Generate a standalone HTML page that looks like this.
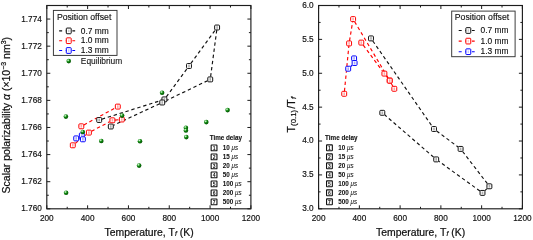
<!DOCTYPE html>
<html><head><meta charset="utf-8"><style>html,body{margin:0;padding:0;background:#fff;}body{width:533px;height:240px;overflow:hidden;font-family:"Liberation Sans",sans-serif;}svg{display:block;will-change:transform;}</style></head><body>
<svg width="533" height="240" viewBox="0 0 533 240">
<defs><radialGradient id="gball" cx="0.36" cy="0.32" r="0.72"><stop offset="0" stop-color="#f4fff4"/><stop offset="0.22" stop-color="#7ccc7c"/><stop offset="0.45" stop-color="#0e860e"/><stop offset="1" stop-color="#004c00"/></radialGradient></defs>
<style>text{stroke:#111;stroke-width:0.22px;}</style>
<rect width="533" height="240" fill="#fff"/>
<line x1="101.80" y1="119.18" x2="161.80" y2="100.22" stroke="#111" stroke-width="1.15" stroke-dasharray="3.4 2.8"/>
<line x1="166.31" y1="96.80" x2="187.09" y2="68.60" stroke="#111" stroke-width="1.15" stroke-dasharray="3.4 2.8"/>
<line x1="190.90" y1="63.40" x2="215.20" y2="30.10" stroke="#111" stroke-width="1.15" stroke-dasharray="3.4 2.8"/>
<line x1="216.76" y1="30.10" x2="210.59" y2="76.80" stroke="#111" stroke-width="1.15" stroke-dasharray="3.4 2.8"/>
<line x1="207.65" y1="80.65" x2="164.85" y2="101.25" stroke="#111" stroke-width="1.15" stroke-dasharray="3.4 2.8"/>
<line x1="159.65" y1="103.71" x2="113.40" y2="125.29" stroke="#111" stroke-width="1.15" stroke-dasharray="3.4 2.8"/>
<line x1="83.90" y1="124.90" x2="115.20" y2="108.00" stroke="#f00" stroke-width="1.15" stroke-dasharray="3.4 2.8"/>
<line x1="75.40" y1="143.25" x2="86.30" y2="134.65" stroke="#f00" stroke-width="1.15" stroke-dasharray="3.4 2.8"/>
<line x1="91.50" y1="131.24" x2="109.80" y2="121.66" stroke="#f00" stroke-width="1.15" stroke-dasharray="3.4 2.8"/>
<line x1="115.00" y1="120.08" x2="119.20" y2="119.72" stroke="#f00" stroke-width="1.15" stroke-dasharray="3.4 2.8"/>
<line x1="78.80" y1="138.75" x2="80.30" y2="138.95" stroke="#00f" stroke-width="1.15" stroke-dasharray="3.4 2.8"/>
<rect x="96.75" y="117.55" width="4.90" height="4.90" rx="0.9" fill="#fff" stroke="#111" stroke-width="1.0"/>
<rect x="98.40" y="118.70" width="1.6" height="2.6" fill="#111" opacity="0.35"/>
<rect x="161.95" y="96.95" width="4.90" height="4.90" rx="0.9" fill="#fff" stroke="#111" stroke-width="1.0"/>
<rect x="163.60" y="98.10" width="1.6" height="2.6" fill="#111" opacity="0.35"/>
<rect x="186.55" y="63.55" width="4.90" height="4.90" rx="0.9" fill="#fff" stroke="#111" stroke-width="1.0"/>
<rect x="188.20" y="64.70" width="1.6" height="2.6" fill="#111" opacity="0.35"/>
<rect x="214.65" y="25.05" width="4.90" height="4.90" rx="0.9" fill="#fff" stroke="#111" stroke-width="1.0"/>
<rect x="216.30" y="26.20" width="1.6" height="2.6" fill="#111" opacity="0.35"/>
<rect x="207.80" y="76.95" width="4.90" height="4.90" rx="0.9" fill="#fff" stroke="#111" stroke-width="1.0"/>
<rect x="209.45" y="78.10" width="1.6" height="2.6" fill="#111" opacity="0.35"/>
<rect x="159.80" y="100.05" width="4.90" height="4.90" rx="0.9" fill="#fff" stroke="#111" stroke-width="1.0"/>
<rect x="161.45" y="101.20" width="1.6" height="2.6" fill="#111" opacity="0.35"/>
<rect x="108.35" y="124.05" width="4.90" height="4.90" rx="0.9" fill="#fff" stroke="#111" stroke-width="1.0"/>
<rect x="110.00" y="125.20" width="1.6" height="2.6" fill="#111" opacity="0.35"/>
<rect x="78.85" y="123.85" width="4.90" height="4.90" rx="0.9" fill="#fff" stroke="#f00" stroke-width="1.0"/>
<rect x="80.50" y="125.00" width="1.6" height="2.6" fill="#f00" opacity="0.35"/>
<rect x="115.35" y="104.15" width="4.90" height="4.90" rx="0.9" fill="#fff" stroke="#f00" stroke-width="1.0"/>
<rect x="117.00" y="105.30" width="1.6" height="2.6" fill="#f00" opacity="0.35"/>
<rect x="70.35" y="142.85" width="4.90" height="4.90" rx="0.9" fill="#fff" stroke="#f00" stroke-width="1.0"/>
<rect x="72.00" y="144.00" width="1.6" height="2.6" fill="#f00" opacity="0.35"/>
<rect x="86.45" y="130.15" width="4.90" height="4.90" rx="0.9" fill="#fff" stroke="#f00" stroke-width="1.0"/>
<rect x="88.10" y="131.30" width="1.6" height="2.6" fill="#f00" opacity="0.35"/>
<rect x="109.95" y="117.85" width="4.90" height="4.90" rx="0.9" fill="#fff" stroke="#f00" stroke-width="1.0"/>
<rect x="111.60" y="119.00" width="1.6" height="2.6" fill="#f00" opacity="0.35"/>
<rect x="119.35" y="117.05" width="4.90" height="4.90" rx="0.9" fill="#fff" stroke="#f00" stroke-width="1.0"/>
<rect x="121.00" y="118.20" width="1.6" height="2.6" fill="#f00" opacity="0.35"/>
<rect x="73.75" y="135.95" width="4.90" height="4.90" rx="0.9" fill="#fff" stroke="#00f" stroke-width="1.0"/>
<rect x="75.40" y="137.10" width="1.6" height="2.6" fill="#00f" opacity="0.35"/>
<rect x="79.35" y="132.95" width="4.90" height="4.90" rx="0.9" fill="#fff" stroke="#00f" stroke-width="1.0"/>
<rect x="81.00" y="134.10" width="1.6" height="2.6" fill="#00f" opacity="0.35"/>
<rect x="80.45" y="136.85" width="4.90" height="4.90" rx="0.9" fill="#fff" stroke="#00f" stroke-width="1.0"/>
<rect x="82.10" y="138.00" width="1.6" height="2.6" fill="#00f" opacity="0.35"/>
<circle cx="66.10" cy="192.80" r="2.3" fill="url(#gball)"/>
<circle cx="65.90" cy="116.60" r="2.3" fill="url(#gball)"/>
<circle cx="82.80" cy="132.00" r="2.3" fill="url(#gball)"/>
<circle cx="101.30" cy="141.00" r="2.3" fill="url(#gball)"/>
<circle cx="122.10" cy="115.60" r="2.3" fill="url(#gball)"/>
<circle cx="140.00" cy="141.20" r="2.3" fill="url(#gball)"/>
<circle cx="139.10" cy="165.60" r="2.3" fill="url(#gball)"/>
<circle cx="162.10" cy="92.80" r="2.3" fill="url(#gball)"/>
<circle cx="185.90" cy="127.80" r="2.3" fill="url(#gball)"/>
<circle cx="185.90" cy="130.50" r="2.3" fill="url(#gball)"/>
<circle cx="186.30" cy="137.10" r="2.3" fill="url(#gball)"/>
<circle cx="206.30" cy="122.10" r="2.3" fill="url(#gball)"/>
<circle cx="227.60" cy="110.10" r="2.3" fill="url(#gball)"/>
<rect x="46.8" y="5.5" width="204.10000000000002" height="203.3" fill="none" stroke="#1c1c1c" stroke-width="1.15"/>
<line x1="46.80" y1="208.8" x2="46.80" y2="205.3" stroke="#1c1c1c" stroke-width="1"/>
<line x1="46.80" y1="5.5" x2="46.80" y2="9.0" stroke="#1c1c1c" stroke-width="1"/>
<text transform="translate(46.80,220.6) scale(0.84,1)" font-size="9.8" text-anchor="middle" font-family="Liberation Sans, sans-serif" fill="#111" style="stroke-width:0.2px">200</text>
<line x1="67.21" y1="208.8" x2="67.21" y2="206.8" stroke="#1c1c1c" stroke-width="1"/>
<line x1="67.21" y1="5.5" x2="67.21" y2="7.5" stroke="#1c1c1c" stroke-width="1"/>
<line x1="87.62" y1="208.8" x2="87.62" y2="205.3" stroke="#1c1c1c" stroke-width="1"/>
<line x1="87.62" y1="5.5" x2="87.62" y2="9.0" stroke="#1c1c1c" stroke-width="1"/>
<text transform="translate(87.62,220.6) scale(0.84,1)" font-size="9.8" text-anchor="middle" font-family="Liberation Sans, sans-serif" fill="#111" style="stroke-width:0.2px">400</text>
<line x1="108.03" y1="208.8" x2="108.03" y2="206.8" stroke="#1c1c1c" stroke-width="1"/>
<line x1="108.03" y1="5.5" x2="108.03" y2="7.5" stroke="#1c1c1c" stroke-width="1"/>
<line x1="128.44" y1="208.8" x2="128.44" y2="205.3" stroke="#1c1c1c" stroke-width="1"/>
<line x1="128.44" y1="5.5" x2="128.44" y2="9.0" stroke="#1c1c1c" stroke-width="1"/>
<text transform="translate(128.44,220.6) scale(0.84,1)" font-size="9.8" text-anchor="middle" font-family="Liberation Sans, sans-serif" fill="#111" style="stroke-width:0.2px">600</text>
<line x1="148.85" y1="208.8" x2="148.85" y2="206.8" stroke="#1c1c1c" stroke-width="1"/>
<line x1="148.85" y1="5.5" x2="148.85" y2="7.5" stroke="#1c1c1c" stroke-width="1"/>
<line x1="169.26" y1="208.8" x2="169.26" y2="205.3" stroke="#1c1c1c" stroke-width="1"/>
<line x1="169.26" y1="5.5" x2="169.26" y2="9.0" stroke="#1c1c1c" stroke-width="1"/>
<text transform="translate(169.26,220.6) scale(0.84,1)" font-size="9.8" text-anchor="middle" font-family="Liberation Sans, sans-serif" fill="#111" style="stroke-width:0.2px">800</text>
<line x1="189.67" y1="208.8" x2="189.67" y2="206.8" stroke="#1c1c1c" stroke-width="1"/>
<line x1="189.67" y1="5.5" x2="189.67" y2="7.5" stroke="#1c1c1c" stroke-width="1"/>
<line x1="210.08" y1="208.8" x2="210.08" y2="205.3" stroke="#1c1c1c" stroke-width="1"/>
<line x1="210.08" y1="5.5" x2="210.08" y2="9.0" stroke="#1c1c1c" stroke-width="1"/>
<text transform="translate(210.08,220.6) scale(0.84,1)" font-size="9.8" text-anchor="middle" font-family="Liberation Sans, sans-serif" fill="#111" style="stroke-width:0.2px">1000</text>
<line x1="230.49" y1="208.8" x2="230.49" y2="206.8" stroke="#1c1c1c" stroke-width="1"/>
<line x1="230.49" y1="5.5" x2="230.49" y2="7.5" stroke="#1c1c1c" stroke-width="1"/>
<line x1="250.90" y1="208.8" x2="250.90" y2="205.3" stroke="#1c1c1c" stroke-width="1"/>
<line x1="250.90" y1="5.5" x2="250.90" y2="9.0" stroke="#1c1c1c" stroke-width="1"/>
<text transform="translate(250.90,220.6) scale(0.84,1)" font-size="9.8" text-anchor="middle" font-family="Liberation Sans, sans-serif" fill="#111" style="stroke-width:0.2px">1200</text>
<line x1="46.8" y1="208.80" x2="50.3" y2="208.80" stroke="#1c1c1c" stroke-width="1"/>
<line x1="250.9" y1="208.80" x2="247.4" y2="208.80" stroke="#1c1c1c" stroke-width="1"/>
<text transform="translate(41.80,211.25) scale(0.84,1)" font-size="9.8" text-anchor="end" font-family="Liberation Sans, sans-serif" fill="#111" style="stroke-width:0.2px">1.760</text>
<line x1="46.8" y1="195.25" x2="48.8" y2="195.25" stroke="#1c1c1c" stroke-width="1"/>
<line x1="250.9" y1="195.25" x2="248.9" y2="195.25" stroke="#1c1c1c" stroke-width="1"/>
<line x1="46.8" y1="181.69" x2="50.3" y2="181.69" stroke="#1c1c1c" stroke-width="1"/>
<line x1="250.9" y1="181.69" x2="247.4" y2="181.69" stroke="#1c1c1c" stroke-width="1"/>
<text transform="translate(41.80,184.14) scale(0.84,1)" font-size="9.8" text-anchor="end" font-family="Liberation Sans, sans-serif" fill="#111" style="stroke-width:0.2px">1.762</text>
<line x1="46.8" y1="168.14" x2="48.8" y2="168.14" stroke="#1c1c1c" stroke-width="1"/>
<line x1="250.9" y1="168.14" x2="248.9" y2="168.14" stroke="#1c1c1c" stroke-width="1"/>
<line x1="46.8" y1="154.59" x2="50.3" y2="154.59" stroke="#1c1c1c" stroke-width="1"/>
<line x1="250.9" y1="154.59" x2="247.4" y2="154.59" stroke="#1c1c1c" stroke-width="1"/>
<text transform="translate(41.80,157.04) scale(0.84,1)" font-size="9.8" text-anchor="end" font-family="Liberation Sans, sans-serif" fill="#111" style="stroke-width:0.2px">1.764</text>
<line x1="46.8" y1="141.03" x2="48.8" y2="141.03" stroke="#1c1c1c" stroke-width="1"/>
<line x1="250.9" y1="141.03" x2="248.9" y2="141.03" stroke="#1c1c1c" stroke-width="1"/>
<line x1="46.8" y1="127.48" x2="50.3" y2="127.48" stroke="#1c1c1c" stroke-width="1"/>
<line x1="250.9" y1="127.48" x2="247.4" y2="127.48" stroke="#1c1c1c" stroke-width="1"/>
<text transform="translate(41.80,129.93) scale(0.84,1)" font-size="9.8" text-anchor="end" font-family="Liberation Sans, sans-serif" fill="#111" style="stroke-width:0.2px">1.766</text>
<line x1="46.8" y1="113.93" x2="48.8" y2="113.93" stroke="#1c1c1c" stroke-width="1"/>
<line x1="250.9" y1="113.93" x2="248.9" y2="113.93" stroke="#1c1c1c" stroke-width="1"/>
<line x1="46.8" y1="100.37" x2="50.3" y2="100.37" stroke="#1c1c1c" stroke-width="1"/>
<line x1="250.9" y1="100.37" x2="247.4" y2="100.37" stroke="#1c1c1c" stroke-width="1"/>
<text transform="translate(41.80,102.82) scale(0.84,1)" font-size="9.8" text-anchor="end" font-family="Liberation Sans, sans-serif" fill="#111" style="stroke-width:0.2px">1.768</text>
<line x1="46.8" y1="86.82" x2="48.8" y2="86.82" stroke="#1c1c1c" stroke-width="1"/>
<line x1="250.9" y1="86.82" x2="248.9" y2="86.82" stroke="#1c1c1c" stroke-width="1"/>
<line x1="46.8" y1="73.27" x2="50.3" y2="73.27" stroke="#1c1c1c" stroke-width="1"/>
<line x1="250.9" y1="73.27" x2="247.4" y2="73.27" stroke="#1c1c1c" stroke-width="1"/>
<text transform="translate(41.80,75.72) scale(0.84,1)" font-size="9.8" text-anchor="end" font-family="Liberation Sans, sans-serif" fill="#111" style="stroke-width:0.2px">1.770</text>
<line x1="46.8" y1="59.71" x2="48.8" y2="59.71" stroke="#1c1c1c" stroke-width="1"/>
<line x1="250.9" y1="59.71" x2="248.9" y2="59.71" stroke="#1c1c1c" stroke-width="1"/>
<line x1="46.8" y1="46.16" x2="50.3" y2="46.16" stroke="#1c1c1c" stroke-width="1"/>
<line x1="250.9" y1="46.16" x2="247.4" y2="46.16" stroke="#1c1c1c" stroke-width="1"/>
<text transform="translate(41.80,48.61) scale(0.84,1)" font-size="9.8" text-anchor="end" font-family="Liberation Sans, sans-serif" fill="#111" style="stroke-width:0.2px">1.772</text>
<line x1="46.8" y1="32.61" x2="48.8" y2="32.61" stroke="#1c1c1c" stroke-width="1"/>
<line x1="250.9" y1="32.61" x2="248.9" y2="32.61" stroke="#1c1c1c" stroke-width="1"/>
<line x1="46.8" y1="19.05" x2="50.3" y2="19.05" stroke="#1c1c1c" stroke-width="1"/>
<line x1="250.9" y1="19.05" x2="247.4" y2="19.05" stroke="#1c1c1c" stroke-width="1"/>
<text transform="translate(41.80,21.50) scale(0.84,1)" font-size="9.8" text-anchor="end" font-family="Liberation Sans, sans-serif" fill="#111" style="stroke-width:0.2px">1.774</text>
<line x1="46.8" y1="5.50" x2="48.8" y2="5.50" stroke="#1c1c1c" stroke-width="1"/>
<line x1="250.9" y1="5.50" x2="248.9" y2="5.50" stroke="#1c1c1c" stroke-width="1"/>
<line x1="372.81" y1="41.00" x2="432.19" y2="126.40" stroke="#111" stroke-width="1.15" stroke-dasharray="3.4 2.8"/>
<line x1="436.60" y1="130.95" x2="458.00" y2="146.95" stroke="#111" stroke-width="1.15" stroke-dasharray="3.4 2.8"/>
<line x1="462.60" y1="151.50" x2="487.40" y2="183.70" stroke="#111" stroke-width="1.15" stroke-dasharray="3.4 2.8"/>
<line x1="486.96" y1="188.64" x2="484.94" y2="190.56" stroke="#111" stroke-width="1.15" stroke-dasharray="3.4 2.8"/>
<line x1="479.90" y1="191.02" x2="438.80" y2="161.28" stroke="#111" stroke-width="1.15" stroke-dasharray="3.4 2.8"/>
<line x1="433.64" y1="157.19" x2="384.86" y2="115.01" stroke="#111" stroke-width="1.15" stroke-dasharray="3.4 2.8"/>
<line x1="344.45" y1="91.20" x2="348.85" y2="46.00" stroke="#f00" stroke-width="1.15" stroke-dasharray="3.4 2.8"/>
<line x1="349.53" y1="40.80" x2="352.67" y2="21.70" stroke="#f00" stroke-width="1.15" stroke-dasharray="3.4 2.8"/>
<line x1="354.65" y1="21.70" x2="388.15" y2="78.00" stroke="#f00" stroke-width="1.15" stroke-dasharray="3.4 2.8"/>
<line x1="363.24" y1="45.20" x2="382.46" y2="71.00" stroke="#f00" stroke-width="1.15" stroke-dasharray="3.4 2.8"/>
<line x1="386.37" y1="76.20" x2="387.73" y2="78.00" stroke="#f00" stroke-width="1.15" stroke-dasharray="3.4 2.8"/>
<line x1="391.16" y1="83.20" x2="392.84" y2="86.20" stroke="#f00" stroke-width="1.15" stroke-dasharray="3.4 2.8"/>
<line x1="352.08" y1="65.25" x2="350.72" y2="66.45" stroke="#00f" stroke-width="1.15" stroke-dasharray="3.4 2.8"/>
<rect x="368.55" y="35.95" width="4.90" height="4.90" rx="0.9" fill="#fff" stroke="#111" stroke-width="1.0"/>
<rect x="370.20" y="37.10" width="1.6" height="2.6" fill="#111" opacity="0.35"/>
<rect x="431.55" y="126.55" width="4.90" height="4.90" rx="0.9" fill="#fff" stroke="#111" stroke-width="1.0"/>
<rect x="433.20" y="127.70" width="1.6" height="2.6" fill="#111" opacity="0.35"/>
<rect x="458.15" y="146.45" width="4.90" height="4.90" rx="0.9" fill="#fff" stroke="#111" stroke-width="1.0"/>
<rect x="459.80" y="147.60" width="1.6" height="2.6" fill="#111" opacity="0.35"/>
<rect x="486.95" y="183.85" width="4.90" height="4.90" rx="0.9" fill="#fff" stroke="#111" stroke-width="1.0"/>
<rect x="488.60" y="185.00" width="1.6" height="2.6" fill="#111" opacity="0.35"/>
<rect x="480.05" y="190.45" width="4.90" height="4.90" rx="0.9" fill="#fff" stroke="#111" stroke-width="1.0"/>
<rect x="481.70" y="191.60" width="1.6" height="2.6" fill="#111" opacity="0.35"/>
<rect x="433.75" y="156.95" width="4.90" height="4.90" rx="0.9" fill="#fff" stroke="#111" stroke-width="1.0"/>
<rect x="435.40" y="158.10" width="1.6" height="2.6" fill="#111" opacity="0.35"/>
<rect x="379.85" y="110.35" width="4.90" height="4.90" rx="0.9" fill="#fff" stroke="#111" stroke-width="1.0"/>
<rect x="381.50" y="111.50" width="1.6" height="2.6" fill="#111" opacity="0.35"/>
<rect x="341.75" y="91.35" width="4.90" height="4.90" rx="0.9" fill="#fff" stroke="#f00" stroke-width="1.0"/>
<rect x="343.40" y="92.50" width="1.6" height="2.6" fill="#f00" opacity="0.35"/>
<rect x="346.65" y="40.95" width="4.90" height="4.90" rx="0.9" fill="#fff" stroke="#f00" stroke-width="1.0"/>
<rect x="348.30" y="42.10" width="1.6" height="2.6" fill="#f00" opacity="0.35"/>
<rect x="350.65" y="16.65" width="4.90" height="4.90" rx="0.9" fill="#fff" stroke="#f00" stroke-width="1.0"/>
<rect x="352.30" y="17.80" width="1.6" height="2.6" fill="#f00" opacity="0.35"/>
<rect x="387.25" y="78.15" width="4.90" height="4.90" rx="0.9" fill="#fff" stroke="#f00" stroke-width="1.0"/>
<rect x="388.90" y="79.30" width="1.6" height="2.6" fill="#f00" opacity="0.35"/>
<rect x="358.85" y="40.15" width="4.90" height="4.90" rx="0.9" fill="#fff" stroke="#f00" stroke-width="1.0"/>
<rect x="360.50" y="41.30" width="1.6" height="2.6" fill="#f00" opacity="0.35"/>
<rect x="381.95" y="71.15" width="4.90" height="4.90" rx="0.9" fill="#fff" stroke="#f00" stroke-width="1.0"/>
<rect x="383.60" y="72.30" width="1.6" height="2.6" fill="#f00" opacity="0.35"/>
<rect x="387.25" y="78.15" width="4.90" height="4.90" rx="0.9" fill="#fff" stroke="#f00" stroke-width="1.0"/>
<rect x="388.90" y="79.30" width="1.6" height="2.6" fill="#f00" opacity="0.35"/>
<rect x="391.85" y="86.35" width="4.90" height="4.90" rx="0.9" fill="#fff" stroke="#f00" stroke-width="1.0"/>
<rect x="393.50" y="87.50" width="1.6" height="2.6" fill="#f00" opacity="0.35"/>
<rect x="351.65" y="55.95" width="4.90" height="4.90" rx="0.9" fill="#fff" stroke="#00f" stroke-width="1.0"/>
<rect x="353.30" y="57.10" width="1.6" height="2.6" fill="#00f" opacity="0.35"/>
<rect x="352.15" y="60.55" width="4.90" height="4.90" rx="0.9" fill="#fff" stroke="#00f" stroke-width="1.0"/>
<rect x="353.80" y="61.70" width="1.6" height="2.6" fill="#00f" opacity="0.35"/>
<rect x="345.75" y="66.25" width="4.90" height="4.90" rx="0.9" fill="#fff" stroke="#00f" stroke-width="1.0"/>
<rect x="347.40" y="67.40" width="1.6" height="2.6" fill="#00f" opacity="0.35"/>
<rect x="318.6" y="5.5" width="203.79999999999995" height="203.3" fill="none" stroke="#1c1c1c" stroke-width="1.15"/>
<line x1="318.60" y1="208.8" x2="318.60" y2="205.3" stroke="#1c1c1c" stroke-width="1"/>
<line x1="318.60" y1="5.5" x2="318.60" y2="9.0" stroke="#1c1c1c" stroke-width="1"/>
<text transform="translate(318.60,220.6) scale(0.84,1)" font-size="9.8" text-anchor="middle" font-family="Liberation Sans, sans-serif" fill="#111" style="stroke-width:0.2px">200</text>
<line x1="338.98" y1="208.8" x2="338.98" y2="206.8" stroke="#1c1c1c" stroke-width="1"/>
<line x1="338.98" y1="5.5" x2="338.98" y2="7.5" stroke="#1c1c1c" stroke-width="1"/>
<line x1="359.36" y1="208.8" x2="359.36" y2="205.3" stroke="#1c1c1c" stroke-width="1"/>
<line x1="359.36" y1="5.5" x2="359.36" y2="9.0" stroke="#1c1c1c" stroke-width="1"/>
<text transform="translate(359.36,220.6) scale(0.84,1)" font-size="9.8" text-anchor="middle" font-family="Liberation Sans, sans-serif" fill="#111" style="stroke-width:0.2px">400</text>
<line x1="379.74" y1="208.8" x2="379.74" y2="206.8" stroke="#1c1c1c" stroke-width="1"/>
<line x1="379.74" y1="5.5" x2="379.74" y2="7.5" stroke="#1c1c1c" stroke-width="1"/>
<line x1="400.12" y1="208.8" x2="400.12" y2="205.3" stroke="#1c1c1c" stroke-width="1"/>
<line x1="400.12" y1="5.5" x2="400.12" y2="9.0" stroke="#1c1c1c" stroke-width="1"/>
<text transform="translate(400.12,220.6) scale(0.84,1)" font-size="9.8" text-anchor="middle" font-family="Liberation Sans, sans-serif" fill="#111" style="stroke-width:0.2px">600</text>
<line x1="420.50" y1="208.8" x2="420.50" y2="206.8" stroke="#1c1c1c" stroke-width="1"/>
<line x1="420.50" y1="5.5" x2="420.50" y2="7.5" stroke="#1c1c1c" stroke-width="1"/>
<line x1="440.88" y1="208.8" x2="440.88" y2="205.3" stroke="#1c1c1c" stroke-width="1"/>
<line x1="440.88" y1="5.5" x2="440.88" y2="9.0" stroke="#1c1c1c" stroke-width="1"/>
<text transform="translate(440.88,220.6) scale(0.84,1)" font-size="9.8" text-anchor="middle" font-family="Liberation Sans, sans-serif" fill="#111" style="stroke-width:0.2px">800</text>
<line x1="461.26" y1="208.8" x2="461.26" y2="206.8" stroke="#1c1c1c" stroke-width="1"/>
<line x1="461.26" y1="5.5" x2="461.26" y2="7.5" stroke="#1c1c1c" stroke-width="1"/>
<line x1="481.64" y1="208.8" x2="481.64" y2="205.3" stroke="#1c1c1c" stroke-width="1"/>
<line x1="481.64" y1="5.5" x2="481.64" y2="9.0" stroke="#1c1c1c" stroke-width="1"/>
<text transform="translate(481.64,220.6) scale(0.84,1)" font-size="9.8" text-anchor="middle" font-family="Liberation Sans, sans-serif" fill="#111" style="stroke-width:0.2px">1000</text>
<line x1="502.02" y1="208.8" x2="502.02" y2="206.8" stroke="#1c1c1c" stroke-width="1"/>
<line x1="502.02" y1="5.5" x2="502.02" y2="7.5" stroke="#1c1c1c" stroke-width="1"/>
<line x1="522.40" y1="208.8" x2="522.40" y2="205.3" stroke="#1c1c1c" stroke-width="1"/>
<line x1="522.40" y1="5.5" x2="522.40" y2="9.0" stroke="#1c1c1c" stroke-width="1"/>
<text transform="translate(522.40,220.6) scale(0.84,1)" font-size="9.8" text-anchor="middle" font-family="Liberation Sans, sans-serif" fill="#111" style="stroke-width:0.2px">1200</text>
<line x1="318.6" y1="208.80" x2="322.1" y2="208.80" stroke="#1c1c1c" stroke-width="1"/>
<line x1="522.4" y1="208.80" x2="518.9" y2="208.80" stroke="#1c1c1c" stroke-width="1"/>
<text transform="translate(313.60,211.25) scale(0.84,1)" font-size="9.8" text-anchor="end" font-family="Liberation Sans, sans-serif" fill="#111" style="stroke-width:0.2px">3.0</text>
<line x1="318.6" y1="191.86" x2="320.6" y2="191.86" stroke="#1c1c1c" stroke-width="1"/>
<line x1="522.4" y1="191.86" x2="520.4" y2="191.86" stroke="#1c1c1c" stroke-width="1"/>
<line x1="318.6" y1="174.92" x2="322.1" y2="174.92" stroke="#1c1c1c" stroke-width="1"/>
<line x1="522.4" y1="174.92" x2="518.9" y2="174.92" stroke="#1c1c1c" stroke-width="1"/>
<text transform="translate(313.60,177.37) scale(0.84,1)" font-size="9.8" text-anchor="end" font-family="Liberation Sans, sans-serif" fill="#111" style="stroke-width:0.2px">3.5</text>
<line x1="318.6" y1="157.98" x2="320.6" y2="157.98" stroke="#1c1c1c" stroke-width="1"/>
<line x1="522.4" y1="157.98" x2="520.4" y2="157.98" stroke="#1c1c1c" stroke-width="1"/>
<line x1="318.6" y1="141.03" x2="322.1" y2="141.03" stroke="#1c1c1c" stroke-width="1"/>
<line x1="522.4" y1="141.03" x2="518.9" y2="141.03" stroke="#1c1c1c" stroke-width="1"/>
<text transform="translate(313.60,143.48) scale(0.84,1)" font-size="9.8" text-anchor="end" font-family="Liberation Sans, sans-serif" fill="#111" style="stroke-width:0.2px">4.0</text>
<line x1="318.6" y1="124.09" x2="320.6" y2="124.09" stroke="#1c1c1c" stroke-width="1"/>
<line x1="522.4" y1="124.09" x2="520.4" y2="124.09" stroke="#1c1c1c" stroke-width="1"/>
<line x1="318.6" y1="107.15" x2="322.1" y2="107.15" stroke="#1c1c1c" stroke-width="1"/>
<line x1="522.4" y1="107.15" x2="518.9" y2="107.15" stroke="#1c1c1c" stroke-width="1"/>
<text transform="translate(313.60,109.60) scale(0.84,1)" font-size="9.8" text-anchor="end" font-family="Liberation Sans, sans-serif" fill="#111" style="stroke-width:0.2px">4.5</text>
<line x1="318.6" y1="90.21" x2="320.6" y2="90.21" stroke="#1c1c1c" stroke-width="1"/>
<line x1="522.4" y1="90.21" x2="520.4" y2="90.21" stroke="#1c1c1c" stroke-width="1"/>
<line x1="318.6" y1="73.27" x2="322.1" y2="73.27" stroke="#1c1c1c" stroke-width="1"/>
<line x1="522.4" y1="73.27" x2="518.9" y2="73.27" stroke="#1c1c1c" stroke-width="1"/>
<text transform="translate(313.60,75.72) scale(0.84,1)" font-size="9.8" text-anchor="end" font-family="Liberation Sans, sans-serif" fill="#111" style="stroke-width:0.2px">5.0</text>
<line x1="318.6" y1="56.32" x2="320.6" y2="56.32" stroke="#1c1c1c" stroke-width="1"/>
<line x1="522.4" y1="56.32" x2="520.4" y2="56.32" stroke="#1c1c1c" stroke-width="1"/>
<line x1="318.6" y1="39.38" x2="322.1" y2="39.38" stroke="#1c1c1c" stroke-width="1"/>
<line x1="522.4" y1="39.38" x2="518.9" y2="39.38" stroke="#1c1c1c" stroke-width="1"/>
<text transform="translate(313.60,41.83) scale(0.84,1)" font-size="9.8" text-anchor="end" font-family="Liberation Sans, sans-serif" fill="#111" style="stroke-width:0.2px">5.5</text>
<line x1="318.6" y1="22.44" x2="320.6" y2="22.44" stroke="#1c1c1c" stroke-width="1"/>
<line x1="522.4" y1="22.44" x2="520.4" y2="22.44" stroke="#1c1c1c" stroke-width="1"/>
<line x1="318.6" y1="5.50" x2="322.1" y2="5.50" stroke="#1c1c1c" stroke-width="1"/>
<line x1="522.4" y1="5.50" x2="518.9" y2="5.50" stroke="#1c1c1c" stroke-width="1"/>
<text transform="translate(313.60,7.95) scale(0.84,1)" font-size="9.8" text-anchor="end" font-family="Liberation Sans, sans-serif" fill="#111" style="stroke-width:0.2px">6.0</text>
<rect x="53.4" y="10.4" width="63.6" height="45.0" fill="#fff" stroke="#333" stroke-width="0.95"/>
<text x="56.9" y="19.700000000000003" font-size="8.7" font-family="Liberation Sans, sans-serif" fill="#111" style="stroke-width:0.14px">Position offset</text>
<line x1="59.15" y1="30.90" x2="75.15" y2="30.90" stroke="#111" stroke-width="1.15" stroke-dasharray="3 3.6"/>
<rect x="66.30" y="28.05" width="4.9" height="5.7" rx="0.7" fill="#fff" stroke="#111" stroke-width="1.0"/>
<rect x="68.05" y="29.60" width="1.4" height="2.6" fill="#111" opacity="0.22"/>
<text x="80.8" y="33.50" font-size="8.4" font-family="Liberation Sans, sans-serif" fill="#111" style="stroke-width:0.14px">0.7 mm</text>
<line x1="59.15" y1="40.70" x2="75.15" y2="40.70" stroke="#f00" stroke-width="1.15" stroke-dasharray="3 3.6"/>
<rect x="66.30" y="37.85" width="4.9" height="5.7" rx="0.7" fill="#fff" stroke="#f00" stroke-width="1.0"/>
<rect x="68.05" y="39.40" width="1.4" height="2.6" fill="#f00" opacity="0.22"/>
<text x="80.8" y="43.30" font-size="8.4" font-family="Liberation Sans, sans-serif" fill="#111" style="stroke-width:0.14px">1.0 mm</text>
<line x1="59.15" y1="50.50" x2="75.15" y2="50.50" stroke="#00f" stroke-width="1.15" stroke-dasharray="3 3.6"/>
<rect x="66.30" y="47.65" width="4.9" height="5.7" rx="0.7" fill="#fff" stroke="#00f" stroke-width="1.0"/>
<rect x="68.05" y="49.20" width="1.4" height="2.6" fill="#00f" opacity="0.22"/>
<text x="80.8" y="53.10" font-size="8.4" font-family="Liberation Sans, sans-serif" fill="#111" style="stroke-width:0.14px">1.3 mm</text>
<circle cx="68.75" cy="61.10" r="2.3" fill="url(#gball)"/>
<text x="80.8" y="63.70" font-size="8.4" font-family="Liberation Sans, sans-serif" fill="#111" style="stroke-width:0.1px">Equilibrium</text>
<rect x="451.7" y="11.1" width="63.4" height="45.6" fill="#fff" stroke="#333" stroke-width="0.95"/>
<text x="454.8" y="20.4" font-size="8.7" font-family="Liberation Sans, sans-serif" fill="#111" style="stroke-width:0.14px">Position offset</text>
<line x1="458.70" y1="30.50" x2="474.70" y2="30.50" stroke="#111" stroke-width="1.15" stroke-dasharray="3 3.6"/>
<rect x="465.85" y="27.65" width="4.9" height="5.7" rx="0.7" fill="#fff" stroke="#111" stroke-width="1.0"/>
<rect x="467.60" y="29.20" width="1.4" height="2.6" fill="#111" opacity="0.22"/>
<text x="480.59999999999997" y="33.10" font-size="8.4" font-family="Liberation Sans, sans-serif" fill="#111" style="stroke-width:0.14px">0.7 mm</text>
<line x1="458.70" y1="41.10" x2="474.70" y2="41.10" stroke="#f00" stroke-width="1.15" stroke-dasharray="3 3.6"/>
<rect x="465.85" y="38.25" width="4.9" height="5.7" rx="0.7" fill="#fff" stroke="#f00" stroke-width="1.0"/>
<rect x="467.60" y="39.80" width="1.4" height="2.6" fill="#f00" opacity="0.22"/>
<text x="480.59999999999997" y="43.70" font-size="8.4" font-family="Liberation Sans, sans-serif" fill="#111" style="stroke-width:0.14px">1.0 mm</text>
<line x1="458.70" y1="51.70" x2="474.70" y2="51.70" stroke="#00f" stroke-width="1.15" stroke-dasharray="3 3.6"/>
<rect x="465.85" y="48.85" width="4.9" height="5.7" rx="0.7" fill="#fff" stroke="#00f" stroke-width="1.0"/>
<rect x="467.60" y="50.40" width="1.4" height="2.6" fill="#00f" opacity="0.22"/>
<text x="480.59999999999997" y="54.30" font-size="8.4" font-family="Liberation Sans, sans-serif" fill="#111" style="stroke-width:0.14px">1.3 mm</text>
<text x="209.7" y="140.20" font-size="6.3" font-weight="bold" font-family="Liberation Sans, sans-serif" fill="#111" style="stroke-width:0.1px">Time delay</text>
<rect x="211.15" y="145.00" width="5.8" height="5.8" rx="0.4" fill="#fff" stroke="#111" stroke-width="1.1"/>
<text x="214.05" y="149.65" font-size="5.0" font-weight="bold" text-anchor="middle" font-family="Liberation Sans, sans-serif" fill="#111" style="stroke:none">1</text>
<text x="222.80" y="150.10" font-size="6.3" font-weight="bold" font-family="Liberation Sans, sans-serif" fill="#111" style="stroke-width:0.05px">10 <tspan font-style="italic" font-weight="normal">μs</tspan></text>
<rect x="211.15" y="154.00" width="5.8" height="5.8" rx="0.4" fill="#fff" stroke="#111" stroke-width="1.1"/>
<text x="214.05" y="158.65" font-size="5.0" font-weight="bold" text-anchor="middle" font-family="Liberation Sans, sans-serif" fill="#111" style="stroke:none">2</text>
<text x="222.80" y="159.10" font-size="6.3" font-weight="bold" font-family="Liberation Sans, sans-serif" fill="#111" style="stroke-width:0.05px">15 <tspan font-style="italic" font-weight="normal">μs</tspan></text>
<rect x="211.15" y="163.00" width="5.8" height="5.8" rx="0.4" fill="#fff" stroke="#111" stroke-width="1.1"/>
<text x="214.05" y="167.65" font-size="5.0" font-weight="bold" text-anchor="middle" font-family="Liberation Sans, sans-serif" fill="#111" style="stroke:none">3</text>
<text x="222.80" y="168.10" font-size="6.3" font-weight="bold" font-family="Liberation Sans, sans-serif" fill="#111" style="stroke-width:0.05px">20 <tspan font-style="italic" font-weight="normal">μs</tspan></text>
<rect x="211.15" y="172.00" width="5.8" height="5.8" rx="0.4" fill="#fff" stroke="#111" stroke-width="1.1"/>
<text x="214.05" y="176.65" font-size="5.0" font-weight="bold" text-anchor="middle" font-family="Liberation Sans, sans-serif" fill="#111" style="stroke:none">4</text>
<text x="222.80" y="177.10" font-size="6.3" font-weight="bold" font-family="Liberation Sans, sans-serif" fill="#111" style="stroke-width:0.05px">50 <tspan font-style="italic" font-weight="normal">μs</tspan></text>
<rect x="211.15" y="181.00" width="5.8" height="5.8" rx="0.4" fill="#fff" stroke="#111" stroke-width="1.1"/>
<text x="214.05" y="185.65" font-size="5.0" font-weight="bold" text-anchor="middle" font-family="Liberation Sans, sans-serif" fill="#111" style="stroke:none">5</text>
<text x="222.80" y="186.10" font-size="6.3" font-weight="bold" font-family="Liberation Sans, sans-serif" fill="#111" style="stroke-width:0.05px">100 <tspan font-style="italic" font-weight="normal">μs</tspan></text>
<rect x="211.15" y="190.00" width="5.8" height="5.8" rx="0.4" fill="#fff" stroke="#111" stroke-width="1.1"/>
<text x="214.05" y="194.65" font-size="5.0" font-weight="bold" text-anchor="middle" font-family="Liberation Sans, sans-serif" fill="#111" style="stroke:none">6</text>
<text x="222.80" y="195.10" font-size="6.3" font-weight="bold" font-family="Liberation Sans, sans-serif" fill="#111" style="stroke-width:0.05px">200 <tspan font-style="italic" font-weight="normal">μs</tspan></text>
<rect x="211.15" y="199.00" width="5.8" height="5.8" rx="0.4" fill="#fff" stroke="#111" stroke-width="1.1"/>
<text x="214.05" y="203.65" font-size="5.0" font-weight="bold" text-anchor="middle" font-family="Liberation Sans, sans-serif" fill="#111" style="stroke:none">7</text>
<text x="222.80" y="204.10" font-size="6.3" font-weight="bold" font-family="Liberation Sans, sans-serif" fill="#111" style="stroke-width:0.05px">500 <tspan font-style="italic" font-weight="normal">μs</tspan></text>
<text x="325.1" y="140.10" font-size="6.3" font-weight="bold" font-family="Liberation Sans, sans-serif" fill="#111" style="stroke-width:0.1px">Time delay</text>
<rect x="326.55" y="144.90" width="5.8" height="5.8" rx="0.4" fill="#fff" stroke="#111" stroke-width="1.1"/>
<text x="329.45" y="149.55" font-size="5.0" font-weight="bold" text-anchor="middle" font-family="Liberation Sans, sans-serif" fill="#111" style="stroke:none">1</text>
<text x="338.20" y="150.00" font-size="6.3" font-weight="bold" font-family="Liberation Sans, sans-serif" fill="#111" style="stroke-width:0.05px">10 <tspan font-style="italic" font-weight="normal">μs</tspan></text>
<rect x="326.55" y="153.90" width="5.8" height="5.8" rx="0.4" fill="#fff" stroke="#111" stroke-width="1.1"/>
<text x="329.45" y="158.55" font-size="5.0" font-weight="bold" text-anchor="middle" font-family="Liberation Sans, sans-serif" fill="#111" style="stroke:none">2</text>
<text x="338.20" y="159.00" font-size="6.3" font-weight="bold" font-family="Liberation Sans, sans-serif" fill="#111" style="stroke-width:0.05px">15 <tspan font-style="italic" font-weight="normal">μs</tspan></text>
<rect x="326.55" y="162.90" width="5.8" height="5.8" rx="0.4" fill="#fff" stroke="#111" stroke-width="1.1"/>
<text x="329.45" y="167.55" font-size="5.0" font-weight="bold" text-anchor="middle" font-family="Liberation Sans, sans-serif" fill="#111" style="stroke:none">3</text>
<text x="338.20" y="168.00" font-size="6.3" font-weight="bold" font-family="Liberation Sans, sans-serif" fill="#111" style="stroke-width:0.05px">20 <tspan font-style="italic" font-weight="normal">μs</tspan></text>
<rect x="326.55" y="171.90" width="5.8" height="5.8" rx="0.4" fill="#fff" stroke="#111" stroke-width="1.1"/>
<text x="329.45" y="176.55" font-size="5.0" font-weight="bold" text-anchor="middle" font-family="Liberation Sans, sans-serif" fill="#111" style="stroke:none">4</text>
<text x="338.20" y="177.00" font-size="6.3" font-weight="bold" font-family="Liberation Sans, sans-serif" fill="#111" style="stroke-width:0.05px">50 <tspan font-style="italic" font-weight="normal">μs</tspan></text>
<rect x="326.55" y="180.90" width="5.8" height="5.8" rx="0.4" fill="#fff" stroke="#111" stroke-width="1.1"/>
<text x="329.45" y="185.55" font-size="5.0" font-weight="bold" text-anchor="middle" font-family="Liberation Sans, sans-serif" fill="#111" style="stroke:none">5</text>
<text x="338.20" y="186.00" font-size="6.3" font-weight="bold" font-family="Liberation Sans, sans-serif" fill="#111" style="stroke-width:0.05px">100 <tspan font-style="italic" font-weight="normal">μs</tspan></text>
<rect x="326.55" y="189.90" width="5.8" height="5.8" rx="0.4" fill="#fff" stroke="#111" stroke-width="1.1"/>
<text x="329.45" y="194.55" font-size="5.0" font-weight="bold" text-anchor="middle" font-family="Liberation Sans, sans-serif" fill="#111" style="stroke:none">6</text>
<text x="338.20" y="195.00" font-size="6.3" font-weight="bold" font-family="Liberation Sans, sans-serif" fill="#111" style="stroke-width:0.05px">200 <tspan font-style="italic" font-weight="normal">μs</tspan></text>
<rect x="326.55" y="198.90" width="5.8" height="5.8" rx="0.4" fill="#fff" stroke="#111" stroke-width="1.1"/>
<text x="329.45" y="203.55" font-size="5.0" font-weight="bold" text-anchor="middle" font-family="Liberation Sans, sans-serif" fill="#111" style="stroke:none">7</text>
<text x="338.20" y="204.00" font-size="6.3" font-weight="bold" font-family="Liberation Sans, sans-serif" fill="#111" style="stroke-width:0.05px">500 <tspan font-style="italic" font-weight="normal">μs</tspan></text>
<text x="104.5" y="236.0" font-size="10.4" font-family="Liberation Sans, sans-serif" fill="#111">Temperature, T<tspan font-size="6.8" font-style="italic" dx="0.3" dy="0.4">f</tspan><tspan dy="-0.4"> (K)</tspan></text>
<text x="376.0" y="236.0" font-size="10.4" font-family="Liberation Sans, sans-serif" fill="#111">Temperature, T<tspan font-size="6.8" font-style="italic" dx="0.3" dy="0.4">f</tspan><tspan dy="-0.4"> (K)</tspan></text>
<text transform="translate(10.0,193.4) rotate(-90)" font-size="10.5" font-family="Liberation Sans, sans-serif" fill="#111">Scalar polarizability <tspan font-style="italic">α</tspan> (×10<tspan font-size="7" dy="-4">−3</tspan><tspan dy="4"> nm</tspan><tspan font-size="7" dy="-4">3</tspan><tspan dy="4">)</tspan></text>
<text transform="translate(294.9,132.6) rotate(-90)" font-size="10.4" font-family="Liberation Sans, sans-serif" fill="#111">T<tspan font-size="7.8" dy="1.3" dx="0.3">(0.1)</tspan><tspan dy="-1.3" dx="1.2">/T</tspan><tspan font-size="7.8" font-style="italic" dy="1.3" dx="0.4">f</tspan></text>
</svg>
</body></html>
